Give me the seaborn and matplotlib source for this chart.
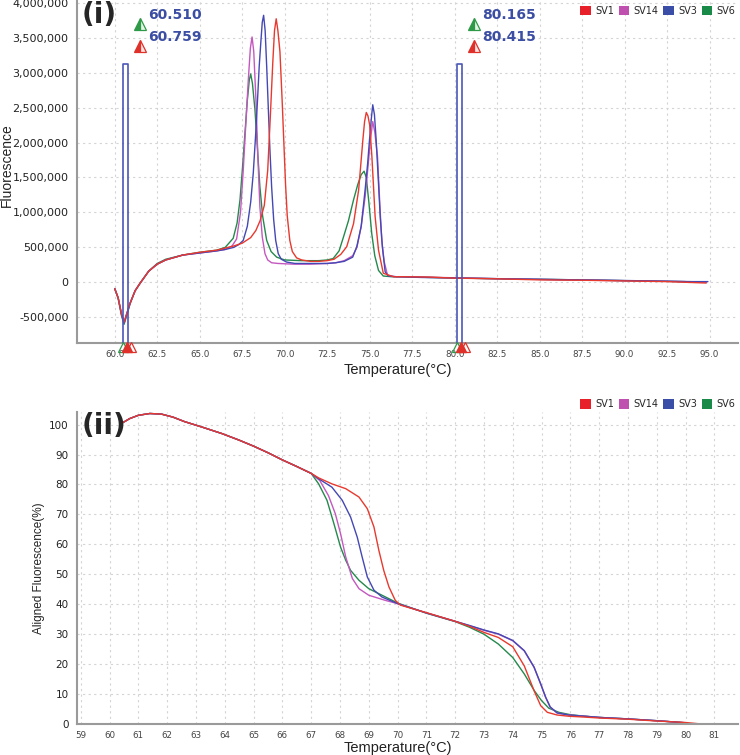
import numpy as np
import pandas as pd
import matplotlib
matplotlib.use("Agg")
import matplotlib.pyplot as plt
import matplotlib.ticker as mticker
from matplotlib.patches import Patch
from matplotlib.transforms import blended_transform_factory
import seaborn as sns

# ---- data (fluorescence in millions) ----
samples = ["SV1", "SV14", "SV3", "SV6"]
draw_order = ["SV6", "SV14", "SV3", "SV1"]
line_colors = {"SV1": "#e8392e", "SV14": "#c458c0", "SV3": "#4448b4", "SV6": "#24894c"}
legend_colors = {"SV1": "#e8202a", "SV14": "#c050b0", "SV3": "#3a4ea8", "SV6": "#1a8a48"}

# panel (i): melt peak curves
t_sv1 = [60.0, 60.2, 60.4, 60.55, 60.7, 60.9, 61.2, 61.5, 62.0, 62.5, 63.0, 64.0, 65.0, 66.0, 67.0, 67.5,
         68.0, 68.3, 68.55, 68.8, 69.0, 69.15, 69.3, 69.4, 69.5, 69.6, 69.72, 69.85, 69.95, 70.05, 70.15,
         70.3, 70.45, 70.7, 71.0, 71.5, 72.0, 72.5, 72.9, 73.3, 73.65, 74.05, 74.35, 74.6, 74.7, 74.8, 74.9,
         75.0, 75.13, 75.32, 75.52, 75.8, 76.4, 77.0, 78.5, 80.0, 82.5, 85.0, 87.5, 90.0, 92.5, 94.8]
f_sv1 = [-0.09, -0.22, -0.45, -0.57, -0.45, -0.30, -0.12, -0.01, 0.16, 0.26, 0.32, 0.39, 0.43, 0.46, 0.52, 0.56,
         0.64, 0.74, 0.88, 1.10, 1.60, 2.35, 3.15, 3.60, 3.77, 3.60, 3.30, 2.60, 2.00, 1.40, 0.95,
         0.60, 0.44, 0.35, 0.32, 0.30, 0.30, 0.31, 0.33, 0.40, 0.51, 0.84, 1.32, 2.04, 2.30, 2.43, 2.38,
         2.25, 1.80, 0.94, 0.46, 0.13, 0.08, 0.08, 0.075, 0.06, 0.05, 0.035, 0.03, 0.02, 0.01, -0.01]

t_sv14 = [60.0, 60.2, 60.4, 60.55, 60.7, 60.9, 61.2, 61.5, 62.0, 62.5, 63.0, 64.0, 65.0, 66.0, 66.5, 66.9,
          67.17, 67.4, 67.56, 67.72, 67.86, 67.98, 68.08, 68.18, 68.31, 68.42, 68.54, 68.68, 68.84, 69.0,
          69.23, 69.6, 70.5, 71.5, 72.5, 73.0, 73.5, 74.0, 74.25, 74.5, 74.73, 74.9, 75.05, 75.18, 75.3,
          75.46, 75.6, 75.71, 75.85, 76.05, 76.5, 77.5, 79.0, 81.0, 83.0, 85.5, 88.0, 91.0, 93.5, 94.8]
f_sv14 = [-0.09, -0.22, -0.46, -0.58, -0.46, -0.30, -0.12, -0.01, 0.16, 0.26, 0.32, 0.39, 0.42, 0.45, 0.47, 0.52,
          0.62, 1.00, 1.60, 2.30, 2.90, 3.35, 3.51, 3.30, 2.60, 1.80, 1.08, 0.65, 0.41, 0.32,
          0.28, 0.27, 0.26, 0.26, 0.27, 0.28, 0.31, 0.38, 0.50, 0.80, 1.22, 1.65, 2.05, 2.30, 2.15,
          1.80, 1.10, 0.60, 0.30, 0.10, 0.08, 0.08, 0.07, 0.06, 0.05, 0.04, 0.03, 0.02, 0.01, 0.0]

t_sv3 = [60.0, 60.2, 60.4, 60.55, 60.7, 60.9, 61.2, 61.5, 62.0, 62.5, 63.0, 64.0, 65.0, 66.0, 66.5, 67.0,
         67.3, 67.56, 67.8, 68.0, 68.15, 68.3, 68.42, 68.5, 68.6, 68.68, 68.76, 68.85, 68.94, 69.05, 69.13,
         69.23, 69.35, 69.47, 69.62, 69.8, 70.11, 70.6, 71.5, 72.5, 73.0, 73.5, 74.0, 74.24, 74.5, 74.73,
         74.88, 74.99, 75.1, 75.18, 75.28, 75.38, 75.5, 75.62, 75.75, 75.91, 76.1, 76.6, 78.0, 80.5, 83.0,
         86.0, 89.0, 91.5, 94.0, 94.9]
f_sv3 = [-0.09, -0.22, -0.46, -0.58, -0.46, -0.30, -0.12, -0.01, 0.16, 0.26, 0.32, 0.39, 0.42, 0.45, 0.47, 0.50,
         0.54, 0.60, 0.80, 1.15, 1.56, 2.15, 2.70, 3.09, 3.45, 3.72, 3.82, 3.60, 3.09, 2.40, 1.90,
         1.37, 0.90, 0.60, 0.41, 0.33, 0.29, 0.27, 0.27, 0.27, 0.28, 0.30, 0.36, 0.51, 0.80, 1.32,
         1.70, 2.04, 2.35, 2.54, 2.40, 2.04, 1.50, 0.94, 0.50, 0.15, 0.09, 0.08, 0.07, 0.06, 0.05,
         0.04, 0.03, 0.02, 0.01, 0.01]

t_sv6 = [60.0, 60.2, 60.4, 60.55, 60.7, 60.9, 61.2, 61.5, 62.0, 62.5, 63.0, 64.0, 65.0, 66.0, 66.5, 66.97,
         67.2, 67.37, 67.52, 67.66, 67.8, 67.92, 68.0, 68.1, 68.25, 68.4, 68.54, 68.7, 68.94, 69.2, 69.53,
         70.0, 71.0, 72.0, 72.5, 72.85, 73.2, 73.46, 73.75, 74.05, 74.3, 74.5, 74.67, 74.8, 74.95, 75.12,
         75.3, 75.52, 75.8, 76.3, 77.0, 78.5, 80.5, 83.0, 86.0, 88.5, 91.0, 93.5, 94.8]
f_sv6 = [-0.09, -0.23, -0.48, -0.60, -0.48, -0.31, -0.12, -0.01, 0.16, 0.27, 0.33, 0.39, 0.43, 0.46, 0.50, 0.63,
         0.85, 1.18, 1.65, 2.13, 2.60, 2.90, 2.98, 2.85, 2.47, 1.90, 1.37, 0.95, 0.60, 0.44, 0.36,
         0.32, 0.31, 0.31, 0.32, 0.34, 0.45, 0.65, 0.88, 1.18, 1.40, 1.54, 1.59, 1.50, 1.15, 0.70,
         0.38, 0.17, 0.09, 0.08, 0.08, 0.07, 0.06, 0.05, 0.04, 0.03, 0.02, 0.01, 0.0]

# cursor pairs shown in panel (i)
cursor_lo = [60.510, 80.165]
cursor_hi = [60.759, 80.415]
cursor_box_top = 3.13  # millions

# panel (ii): aligned fluorescence (%)
t_head = [60.4, 60.7, 61.0, 61.4, 61.8, 62.2, 62.6, 63.2, 63.9, 64.5, 65.0, 65.5, 66.0, 66.5, 67.0]
a_head = [100.3, 102.0, 103.1, 103.7, 103.5, 102.5, 101.0, 99.2, 97.0, 94.8, 92.8, 90.6, 88.2, 86.0, 83.7]

ta_sv1 = [67.26, 67.72, 68.2, 68.66, 68.95, 69.18, 69.35, 69.52, 69.7, 69.92, 70.1, 70.7, 71.0, 72.0, 72.5,
          73.0, 73.5, 74.0, 74.4, 74.74, 74.97, 75.2, 75.54, 75.94, 76.5, 77.0, 78.0, 79.0, 80.0, 80.55]
a_sv1 = [82.2, 80.2, 78.6, 75.8, 71.9, 65.8, 58.0, 51.3, 45.8, 41.3, 39.7, 38.0, 37.2, 34.3, 32.6,
         30.6, 28.9, 25.8, 19.4, 11.1, 6.1, 3.9, 3.0, 2.6, 2.3, 2.0, 1.6, 1.0, 0.5, 0.0]

ta_sv14 = [67.3, 67.6, 67.84, 68.02, 68.2, 68.43, 68.66, 69.0, 69.57, 70.0, 71.0, 72.0, 72.5, 73.0, 73.5,
           74.0, 74.4, 74.74, 74.97, 75.14, 75.3, 75.54, 75.94, 76.5, 77.0, 78.0, 79.0, 80.0]
a_sv14 = [81.3, 76.3, 70.2, 63.6, 55.8, 48.6, 45.2, 43.0, 41.3, 40.2, 37.1, 34.3, 32.8, 31.3, 30.0,
          27.8, 24.4, 18.9, 13.3, 8.9, 5.6, 3.7, 3.0, 2.6, 2.2, 1.7, 1.1, 0.4]

ta_sv3 = [67.26, 67.72, 68.08, 68.37, 68.6, 68.77, 68.95, 69.18, 69.46, 70.0, 71.0, 72.0, 72.5, 73.0, 73.5,
          74.0, 74.4, 74.74, 74.97, 75.14, 75.3, 75.54, 75.94, 76.5, 77.0, 78.0, 79.0, 80.0]
a_sv3 = [81.9, 79.1, 74.7, 69.1, 62.4, 55.8, 49.1, 44.7, 42.4, 40.2, 37.1, 34.3, 32.9, 31.4, 30.1,
         27.9, 24.5, 19.0, 13.4, 9.0, 5.7, 3.7, 3.0, 2.6, 2.2, 1.7, 1.1, 0.4]

ta_sv6 = [67.26, 67.55, 67.79, 68.02, 68.2, 68.37, 68.66, 69.0, 69.46, 70.0, 71.0, 72.0, 72.5, 73.0, 73.5,
          74.0, 74.4, 74.75, 75.0, 75.25, 75.6, 76.0, 76.5, 77.0, 78.0, 79.0, 80.0]
a_sv6 = [80.2, 74.7, 66.9, 59.1, 54.7, 51.3, 48.0, 45.2, 43.0, 40.4, 37.0, 34.2, 32.3, 30.0, 26.7,
         22.2, 16.7, 11.1, 7.8, 5.3, 3.9, 3.1, 2.6, 2.2, 1.7, 1.1, 0.4]

# ---- long tables ----
melt_rows = []
for name, tt, ff in [("SV1", t_sv1, f_sv1), ("SV14", t_sv14, f_sv14),
                     ("SV3", t_sv3, f_sv3), ("SV6", t_sv6, f_sv6)]:
    for a, b in zip(tt, ff, strict=True):
        melt_rows.append({"Sample": name, "Temperature": a, "Fluorescence": b * 1e6})
df_melt = pd.DataFrame(melt_rows)

align_rows = []
for name, tt, aa in [("SV1", ta_sv1, a_sv1), ("SV14", ta_sv14, a_sv14),
                     ("SV3", ta_sv3, a_sv3), ("SV6", ta_sv6, a_sv6)]:
    for a, b in zip(t_head + tt, a_head + aa, strict=True):
        align_rows.append({"Sample": name, "Temperature": a, "Aligned": b})
df_align = pd.DataFrame(align_rows)

# ---- style ----
sns.set_style("white")
plt.rcParams["font.family"] = ["DejaVu Sans"]
grid_kw = dict(color="#d4d4d4", linestyle=(0, (2, 3)), linewidth=0.8)
spine_color = "#9a9a9a"

W, H = 740, 755
fig = plt.figure(figsize=(W / 100, H / 100), dpi=100)
fig.patch.set_facecolor("white")


def style_axes(ax):
    for side in ["top", "right"]:
        ax.spines[side].set_visible(False)
    for side in ["left", "bottom"]:
        ax.spines[side].set_color(spine_color)
        ax.spines[side].set_linewidth(1.5)
    ax.grid(True, **grid_kw)
    ax.set_axisbelow(True)
    ax.tick_params(axis="both", which="major", length=3, width=0.8, color=spine_color)
    ax.tick_params(axis="x", labelsize=6.3, labelcolor="#444444", pad=2)


def add_legend(ax, **kw):
    handles = [Patch(facecolor=legend_colors[s], edgecolor="none", label=s) for s in samples]
    ax.legend(handles=handles, ncol=4, frameon=False, fontsize=7, handlelength=1.1,
              handleheight=1.1, handletextpad=0.45, columnspacing=0.45, **kw)


# ---- panel (i) ----
ax1 = fig.add_axes([77 / W, 1 - 343 / H, 661 / W, 343 / H])
style_axes(ax1)
sns.lineplot(data=df_melt, x="Temperature", y="Fluorescence", hue="Sample", hue_order=draw_order,
             palette=line_colors, estimator=None, sort=False, legend=False, linewidth=1.0, ax=ax1)
ax1.set_xlim(57.78, 96.67)
ax1.set_ylim(-0.868e6, 4.039e6)
ax1.set_xticks([60.0, 62.5, 65.0, 67.5, 70.0, 72.5, 75.0, 77.5, 80.0, 82.5, 85.0, 87.5, 90.0, 92.5, 95.0])
ax1.set_yticks([-500000, 0, 500000, 1000000, 1500000, 2000000, 2500000, 3000000, 3500000, 4000000])
ax1.xaxis.set_major_formatter(mticker.FormatStrFormatter("%.1f"))
ax1.yaxis.set_major_formatter(mticker.FuncFormatter(lambda v, _: f"{int(round(v)):,}"))
ax1.tick_params(axis="y", labelsize=8, labelcolor="#222222", pad=3)
ax1.set_xlabel("Temperature(°C)", fontsize=10.5, family=["Liberation Sans"], color="#222222")
ax1.set_ylabel("Fluorescence", fontsize=10, family=["Liberation Sans"], color="#222222")
ax1.xaxis.set_label_coords((398 - 77) / 661, -0.058)
ax1.yaxis.set_label_coords((14 - 77) / 661, 0.52)

ybot = ax1.get_ylim()[0]
box_col = "#4a57b8"
tri_green, tri_red = "#2e9a48", "#e0302a"
btrans = blended_transform_factory(ax1.transData, ax1.transAxes)
for lo, hi in zip(cursor_lo, cursor_hi):
    ax1.plot([lo, lo, hi, hi], [ybot, cursor_box_top * 1e6, cursor_box_top * 1e6, ybot],
             color=box_col, linewidth=1.2, zorder=4)
    # value labels with marker icons
    ax1.plot(lo + 0.97, 3.70e6, marker="^", markersize=8, color=tri_green, fillstyle="left",
             markerfacecoloralt="#e6f4e6", markeredgecolor=tri_green, markeredgewidth=0.9,
             linestyle="none", zorder=5)
    ax1.plot(lo + 0.97, 3.38e6, marker="^", markersize=8, color=tri_red, fillstyle="left",
             markerfacecoloralt="#fbe4e2", markeredgecolor=tri_red, markeredgewidth=0.9,
             linestyle="none", zorder=5)
    ax1.text(lo + 1.43, 3.83e6, f"{lo:.3f}", color="#3b4ea3", fontsize=10, fontweight="bold",
             va="center", ha="left")
    ax1.text(lo + 1.43, 3.51e6, f"{hi:.3f}", color="#3b4ea3", fontsize=10, fontweight="bold",
             va="center", ha="left")
    # cursor handles on the x-axis
    ax1.plot(lo - 0.05, -0.012, marker="^", markersize=7, markerfacecolor="none",
             markeredgecolor=tri_green, markeredgewidth=0.9, linestyle="none",
             transform=btrans, clip_on=False, zorder=6)
    ax1.plot(hi - 0.05, -0.012, marker="^", markersize=7, color=tri_red, linestyle="none",
             transform=btrans, clip_on=False, zorder=6)
    ax1.plot(hi + 0.2, -0.012, marker="^", markersize=7, markerfacecolor="none",
             markeredgecolor=tri_red, markeredgewidth=0.9, linestyle="none",
             transform=btrans, clip_on=False, zorder=6)

add_legend(ax1, loc="upper right", bbox_to_anchor=(1.005, 1.0), borderaxespad=0.2)
fig.text(82 / W, 1 - 15 / H, "(i)", fontsize=20, fontweight="bold", va="center", ha="left")

# ---- panel (ii) ----
ax2 = fig.add_axes([77 / W, 1 - 724 / H, 661 / W, 312 / H])
style_axes(ax2)
sns.lineplot(data=df_align, x="Temperature", y="Aligned", hue="Sample", hue_order=draw_order,
             palette=line_colors, estimator=None, sort=False, legend=False, linewidth=1.0, ax=ax2)
ax2.set_xlim(58.87, 81.82)
ax2.set_ylim(0, 104.2)
ax2.set_xticks(list(range(59, 82)))
ax2.set_yticks(list(range(0, 101, 10)))
ax2.tick_params(axis="y", labelsize=7.5, labelcolor="#222222", pad=3)
ax2.set_xlabel("Temperature(°C)", fontsize=10.5, family=["Liberation Sans"], color="#222222")
ax2.set_ylabel("Aligned Fluorescence(%)", fontsize=8.5, family=["Liberation Sans"], color="#222222")
ax2.xaxis.set_label_coords((398 - 77) / 661, -0.056)
ax2.yaxis.set_label_coords((45 - 77) / 661, 0.5)

add_legend(ax2, loc="lower right", bbox_to_anchor=(1.005, 0.99), borderaxespad=0.2)
fig.text(82 / W, 1 - 426 / H, "(ii)", fontsize=20, fontweight="bold", va="center", ha="left")

fig.savefig("out.png", dpi=100, facecolor="white")
